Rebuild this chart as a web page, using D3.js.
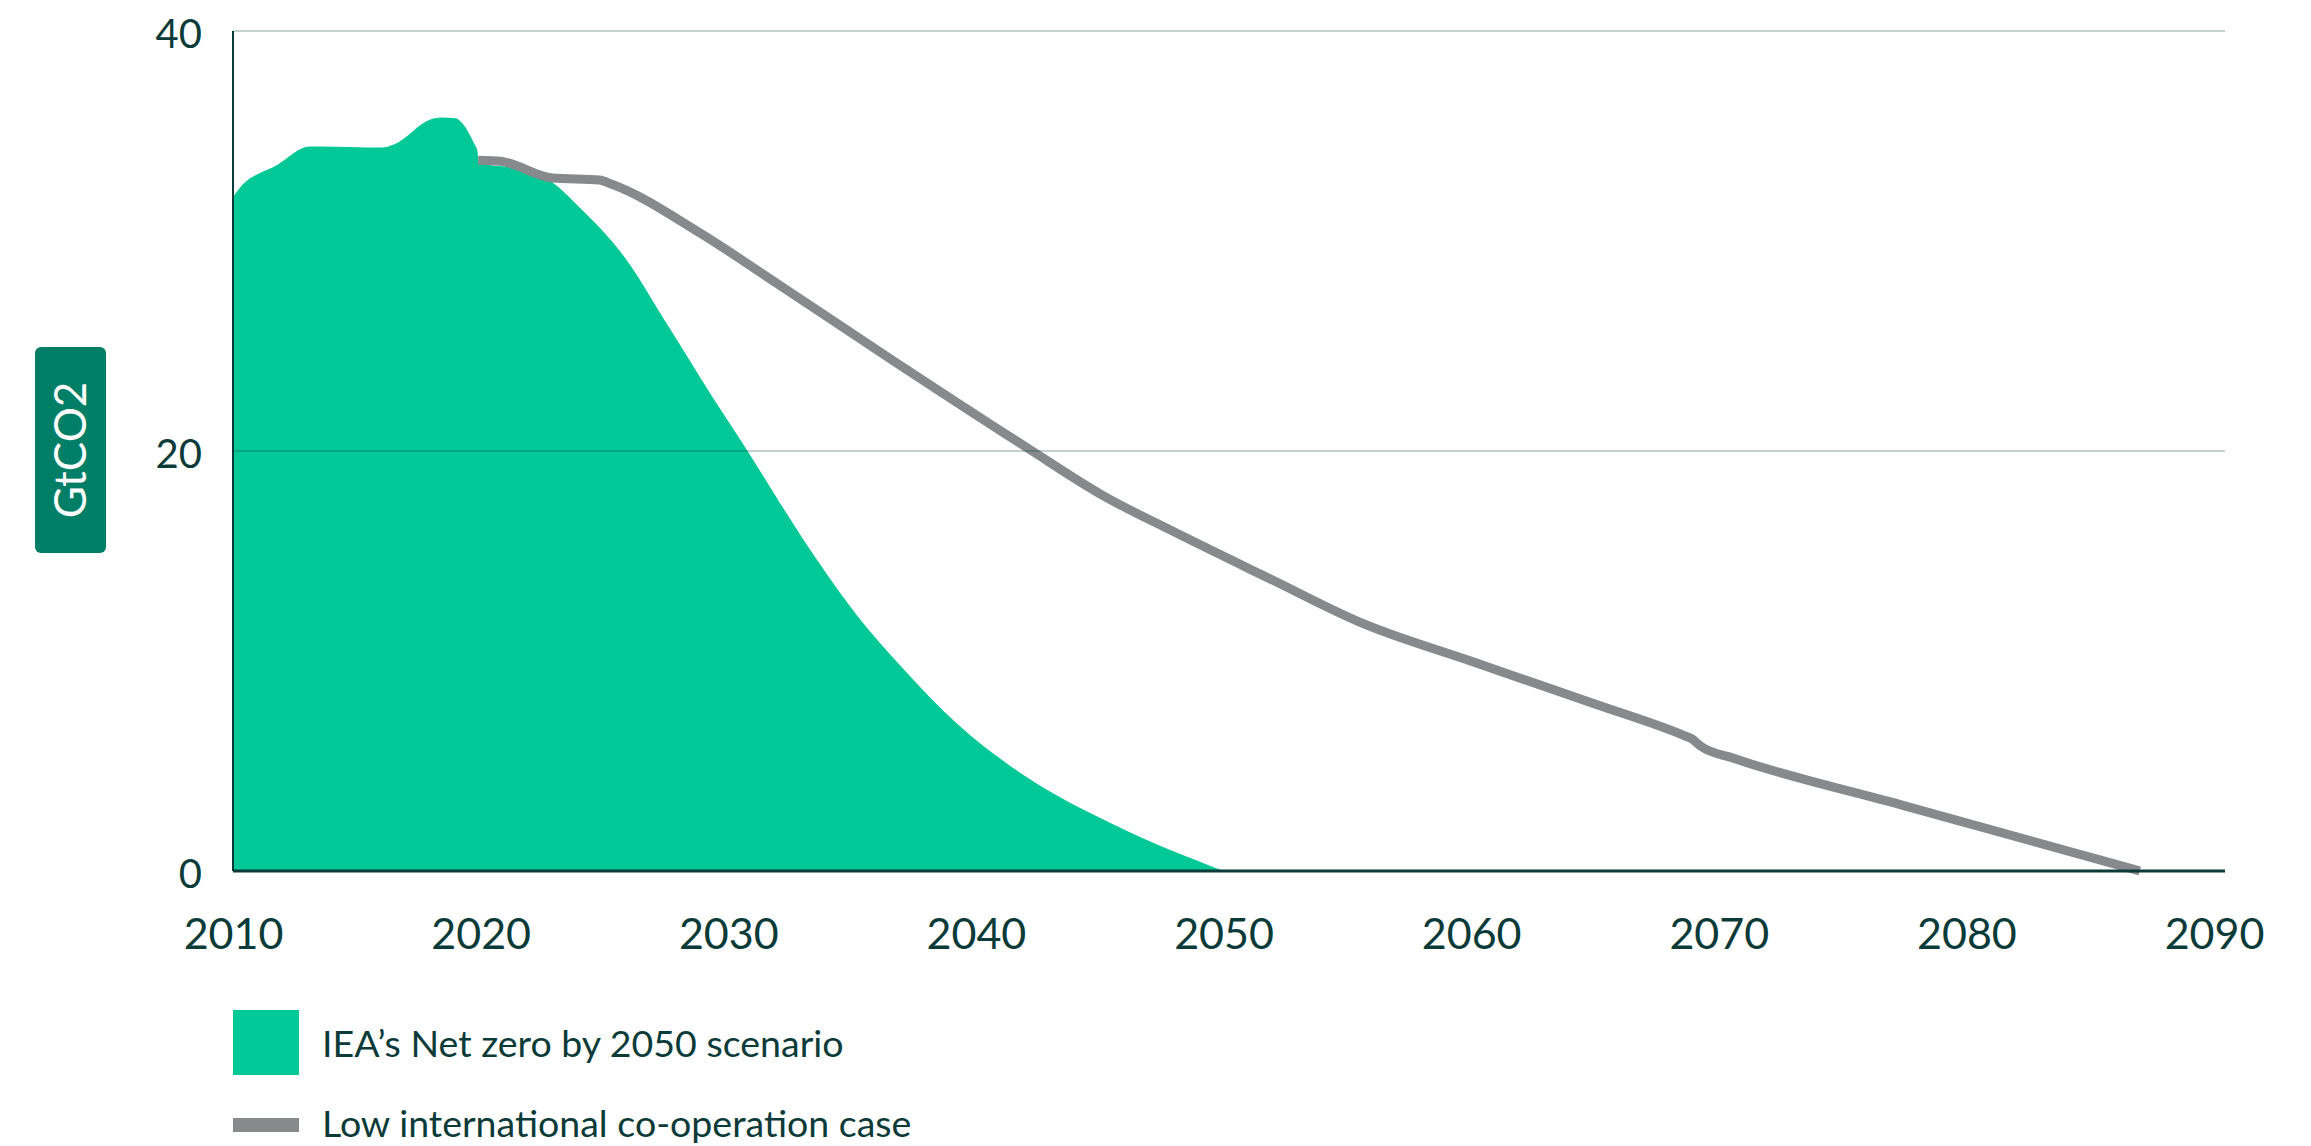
<!DOCTYPE html>
<html>
<head>
<meta charset="utf-8">
<script src="https://cdn.jsdelivr.net/npm/d3@7"></script>
<style>
  html, body { margin: 0; padding: 0; background: #fff; }
  body { font-family: "Lato", "Open Sans", sans-serif; }
  svg { display: block; }
</style>
</head>
<body>
<svg id="chart"></svg>
<script>
// --- data ---
const netZeroYears  = [2010, 2010.4, 2011.2, 2011.6, 2013.1, 2013.5, 2016.0, 2016.5, 2018.0, 2018.4, 2019.0, 2019.2, 2019.77, 2019.87, 2019.92,
                       2021.5, 2022.7, 2024.0, 2025.8, 2027.6, 2029.4, 2030.8, 2032.1, 2033.9, 2035.2, 2037.0, 2039.3, 2042.0, 2045.6, 2050];
const netZeroValues = [32.1, 32.7, 33.3, 33.5, 34.5, 34.5, 34.45, 34.6, 35.8, 35.88, 35.84, 35.68, 34.57, 34.3, 33.7,
                       33.45, 32.95, 31.6, 29.25, 25.9, 22.5, 19.97, 17.5, 14.27, 12.17, 9.72, 6.95, 4.51, 2.19, 0];

const lowCoopYears  = [2019.9, 2020.8, 2022.9, 2024.8, 2025.3, 2028.9, 2032.0, 2036.6, 2042.1, 2045.1, 2048.0, 2051.9,
                       2055.5, 2060.1, 2065.0, 2068.6, 2068.9, 2069.3, 2070.6, 2077.4, 2087];
const lowCoopValues = [33.85, 33.8, 33.0, 32.9, 32.7, 30.35, 27.95, 24.35, 20.13, 17.9, 16.15, 13.9,
                       11.85, 9.95, 7.95, 6.45, 6.3, 5.92, 5.37, 3.14, 0];

const xTicks = [2010, 2020, 2030, 2040, 2050, 2060, 2070, 2080, 2090];
const yTicks = [0, 20, 40];
const yTitle = "GtCO2";
const legendLabels = ["IEA\u2019s Net zero by 2050 scenario", "Low international co-operation case"];

// --- styles ---
const W = 2311, H = 1146;
const green = "#00c896", grey = "#878a8c", ink = "#0b3b39", badge = "#007e66";

const svg = d3.select("#chart").attr("width", W).attr("height", H);

const x = d3.scaleLinear().domain([2010, 2090]).range([233, 2214]);
const y = d3.scaleLinear().domain([0, 40]).range([871, 31]);
const plotRight = 2225;

const netZero = netZeroYears.map((yr, i) => ({ year: yr, value: netZeroValues[i] }));
const lowCoop = lowCoopYears.map((yr, i) => ({ year: yr, value: lowCoopValues[i] }));

// green area
const area = d3.area()
    .x(d => x(d.year))
    .y0(y(0))
    .y1(d => y(d.value))
    .curve(d3.curveMonotoneX);

svg.append("path")
    .datum(netZero)
    .attr("d", area)
    .attr("fill", green);

// grey line
const line = d3.line()
    .x(d => x(d.year))
    .y(d => y(d.value))
    .curve(d3.curveMonotoneX);

svg.append("path")
    .datum(lowCoop)
    .attr("d", line)
    .attr("fill", "none")
    .attr("stroke", grey)
    .attr("stroke-width", 9)
    .attr("stroke-linecap", "butt");

// gridlines drawn over the marks, translucent
svg.append("g")
    .selectAll("line")
    .data(yTicks.filter(d => d > 0))
    .enter()
    .append("line")
        .attr("x1", x(2010))
        .attr("x2", plotRight)
        .attr("y1", d => y(d))
        .attr("y2", d => y(d))
        .attr("stroke", ink)
        .attr("stroke-opacity", 0.24)
        .attr("stroke-width", 2);

// axes lines
svg.append("line")
    .attr("x1", x(2010)).attr("x2", plotRight)
    .attr("y1", y(0)).attr("y2", y(0))
    .attr("stroke", ink).attr("stroke-width", 3);

svg.append("line")
    .attr("x1", x(2010)).attr("x2", x(2010))
    .attr("y1", y(40)).attr("y2", y(0))
    .attr("stroke", ink).attr("stroke-width", 2);

// y tick labels
const yAxis = svg.append("g")
    .attr("transform", `translate(${x(2010) - 31}, 0)`)
    .call(d3.axisLeft(y).tickValues(yTicks).tickSize(0).tickPadding(0))
yAxis.select(".domain").remove();
yAxis.selectAll("text")
    .attr("fill", ink)
    .attr("font-size", 40)
    .attr("font-family", "Lato, sans-serif")
    .attr("dy", "0.42em");

// x tick labels
const xAxis = svg.append("g")
    .attr("transform", `translate(0, ${y(0)})`)
    .call(d3.axisBottom(x).tickValues(xTicks).tickFormat(d3.format("d")).tickSize(0).tickPadding(47))
xAxis.select(".domain").remove();
xAxis.selectAll("text")
    .attr("fill", ink)
    .attr("font-size", 43)
    .attr("font-family", "Lato, sans-serif");

// y title badge
const badgeG = svg.append("g").attr("transform", "translate(70.5, 450)");
badgeG.append("rect")
    .attr("x", -35.5).attr("y", -103)
    .attr("width", 71).attr("height", 206)
    .attr("rx", 6)
    .attr("fill", badge);
badgeG.append("text")
    .attr("transform", "rotate(-90)")
    .attr("text-anchor", "middle")
    .attr("dy", "0.36em")
    .attr("fill", "#fff")
    .attr("font-size", 44)
    .attr("font-family", "Lato, sans-serif")
    .text(yTitle);

// legend
const legend = svg.append("g").attr("transform", "translate(233, 0)");
legend.append("rect")
    .attr("x", 0).attr("y", 1010).attr("width", 66).attr("height", 65)
    .attr("fill", green);
legend.append("rect")
    .attr("x", 0).attr("y", 1118).attr("width", 66).attr("height", 14)
    .attr("fill", grey);
legend.selectAll("text.lbl")
    .data(legendLabels)
    .enter()
    .append("text")
        .attr("class", "lbl")
        .attr("x", 89)
        .attr("y", (d, i) => i === 0 ? 1057 : 1137)
        .attr("fill", ink)
        .attr("font-size", 37.5)
        .attr("font-family", "Lato, sans-serif")
        .text(d => d);
</script>
</body>
</html>
